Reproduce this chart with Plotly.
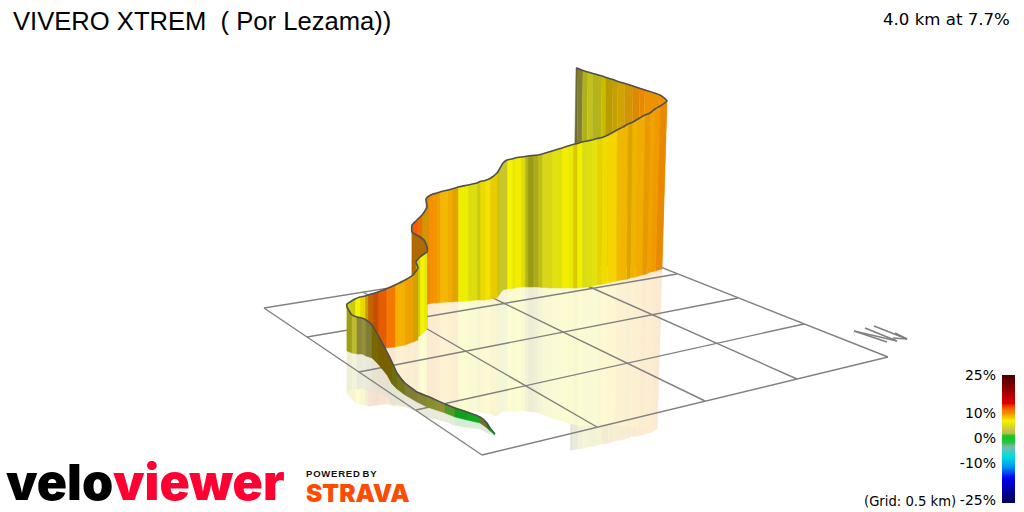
import plotly.graph_objects as go
from plotly.colors import sample_colorscale

TITLE = "VIVERO\u00a0XTREM\u00a0\u00a0(\u00a0Por\u00a0Lezama))"
SUMMARY = "4.0 km at 7.7%"
GRID_NOTE = "(Grid: 0.5 km)"
LOGO_BLACK = "velo"
LOGO_RED = "viewer"
POWERED = "P\u200aO\u200aW\u200aE\u200aR\u200aE\u200aD\u00a0B\u200aY"
STRAVA = "STRAVA"

# route, start of climb to summit: crest position, foot position on the ground plane
crest_x = [495,490,487,480,467,455,445,436,427,417,405,397,392,387,378,372,366,362,357,352,347,
           347,350,355,360,365,368,373,378,386,395,405,413,418,416,420,424,427,427,424,420,412,412,417,422,427,426,429,
           433,437,440,448,452,458,468,477,480,485,490,497,499,503,507,512,515,521,525,528,533,538,542,552,562,568,573,
           577,582,587,592,597,602,608,617,623,628,632,638,645,650,655,660,667,
           660,645,640,633,625,618,613,606,602,593,588,583,578,576]
crest_y = [434,428,423,417,412,408,404,400,396,392,383,373,362,352,335,325,320,318,317,315,307,
           304,302,299,297,296,295,293.5,292,289,285,280,275,268,262,257,254,252,247,240,237,232,225,220,215,207,199,196,
           194,193,192,190,189,187,185,183,181.5,180.5,178.5,173,170,163,160,159,158,157,156.5,156,155.5,155,154,151,148,146,144.5,
           143.5,142,141,140,138.5,137.5,135,130,127,124,122.5,119,115,113,109,106,101,
           95,90,88.5,86,83.5,81.5,79.5,77.5,76,73.5,72,70.5,68.5,68]
foot_x = [495,490,487,480,467,455,445,436,427,417,405,397,392,387,378,372,366,362,357,352,347,
          347,350,355,360,365,368,373,378,386,395,405,413,418,416,420,424,427,427,424,420,412,412,417,422,427,426,429,
          433,437,440,448,452,458,468,477,480,485,490,497,499,503,507,512,515,521,525,528,533,538,542,552,562,568,573,
          577,582,587,592,597,601,607.5,616,622,626.5,630,635.5,642,646.5,651,655.5,662,
          655.5,641,635.5,629.5,621.5,615.5,610.5,603.5,599.5,590.5,585.5,580.5,575.5,573]
foot_y = [435,431,428,423,420,417,413,410,407,402,395,389,384,375,364,358,356,354,354,353,351,
          350,351,352,352,352,352,351,350,348,347,345,342,340,338,336,332,329,328,326,323,318,316,312,308,305,304,304,
          303,303,302.5,302,302,301.5,301,300,300,300,299,298,295,290,289,288.5,288,287,287,287,287,287,287.5,288,288,288,288,
          288,287.5,287,286.5,285,284.5,283,281,280,279.5,278,277,275,274,272,271,269,
          268,267.5,267,267,266.5,266,266,265.5,265.5,265,265,264.5,264,264]
# gradient (%) and wall shading of the stretch leaving each route point
grade = [0.5,1,2,0,0,1.5,2.5,2,2.5,3,4.5,5,8.5,8.5,8,3,3,3,4,5,5,
         6,6,7,7.5,8.5,11,12,12,11,9,9.3,8.5,8.5,6,7,7,10,10,10,10,10,12,11.5,9,9,10,10,
         9.8,9.3,8.8,9,9,7,6,5.5,7.6,7.4,7.8,5.5,4.5,4.5,7,6.5,7.2,6,5,5,5,5,5.5,6,7.2,7,7.6,
         7,5.5,6,6,7.6,7.6,7.9,8.6,8.7,8.8,8.8,9,9.5,9.3,9.6,10,
         10,9.8,10,9.7,9,8.5,8.2,8,7.5,5,5,5,3,3]
shade = [0.9,0.65,0.6,0.85,0.8,0.78,0.75,0.75,0.7,0.65,0.55,0.5,0.5,0.5,0.5,0.65,0.75,0.7,0.9,0.72,0.85,
         0.9,0.88,1,0.95,0.82,0.82,0.82,0.95,1,1,0.97,0.85,0.85,0.9,1,0.95,0.72,0.72,0.72,0.72,0.8,1,1,0.85,0.8,0.95,1,
         1,0.97,1,0.98,0.93,0.97,0.95,0.9,0.97,0.99,0.95,0.87,0.93,0.93,1,0.97,1,0.95,0.82,0.7,0.78,0.87,0.95,0.97,1,0.96,0.9,
         0.98,0.97,0.96,0.98,0.95,0.98,1,0.98,0.98,0.9,0.98,0.98,0.95,0.98,0.98,0.95,
         1,0.97,0.95,0.9,0.85,0.85,0.8,0.75,0.83,0.82,0.88,0.8,0.65,0.55]

# ground grid corners, back edge to front edge
grid_a_from = [(264,308),(363,292),(452,278),(538,264),(620,251)]
grid_a_to = [(482,455),(597,427),(705,401),(797,379),(888,357)]
grid_b_from = [(264,308),(307,337),(359,372),(416,410),(482,455)]
grid_b_to = [(620,251),(677,274),(738,298),(804,324),(888,357)]

compass_strokes = [((854,331),(887,342)),((854,331),(897,341)),((865,328),(897,341)),((874,326),(907,339)),
                   ((895,333),(907,339)),((893,338),(907,339))]

legend_ticks = [25,10,0,-10,-25]
legend_labels = ["25%","10%","0%","-10%","-25%"]
legend_steps = list(range(-26,26))

color_stops = [(-25,"#000060"),(-16,"#0000f0"),(-11,"#00a0f0"),(-7,"#00e0e0"),(-3.5,"#80b8a8"),(-1.5,"#20c840"),
               (0,"#10c820"),(1,"#20c820"),(2,"#b0c040"),(3,"#c8c050"),(5,"#dcdc20"),(7,"#f4f400"),(8,"#f5d000"),(9,"#f5b000"),
               (10,"#f59000"),(12,"#f06000"),(14,"#e00000"),(20,"#8b0000"),(25,"#4a0000")]
colorscale = [[(g+25)/50, c] for g, c in color_stops]

n = len(crest_x)
assert len(crest_y) == n and len(foot_x) == n and len(foot_y) == n
assert len(grade) == n-1 and len(shade) == n-1, (n, len(grade), len(shade))

def segment_color(g, s):
    rgb = sample_colorscale(colorscale, [(g+25)/50], colortype="tuple")[0]
    return tuple(v*255*s for v in rgb)

def pale(c, a=0.18):
    return "rgb(%d,%d,%d)" % tuple(round(v*a+255*(1-a)) for v in c)

fig = go.Figure()
GREY = "#808080"

# mirrored walls on the ground, far end first so that only one layer shows
K = 0.95
for i in range(n-2, -1, -1):
    rx = [foot_x[j]-K*(crest_x[j]-foot_x[j]) for j in (i, i+1)]
    ry = [foot_y[j]+K*(foot_y[j]-crest_y[j]) for j in (i, i+1)]
    c = pale(segment_color(grade[i], shade[i]))
    fig.add_trace(go.Scatter(x=[foot_x[i],foot_x[i+1],rx[1],rx[0]], y=[foot_y[i],foot_y[i+1],ry[1],ry[0]],
                             mode="lines", fill="toself", fillcolor=c, line=dict(color=c, width=0.4),
                             hoverinfo="skip", showlegend=False))

# ground grid
for a, b in list(zip(grid_a_from, grid_a_to))+list(zip(grid_b_from, grid_b_to)):
    fig.add_trace(go.Scatter(x=[a[0],b[0]], y=[a[1],b[1]], mode="lines", line=dict(color=GREY, width=1.4),
                             hoverinfo="skip", showlegend=False))

# walls, far end of the route first
for i in range(n-2, -1, -1):
    r, g, b = segment_color(grade[i], shade[i])
    c = f"rgb({round(r)},{round(g)},{round(b)})"
    fig.add_trace(go.Scatter(x=[crest_x[i],crest_x[i+1],foot_x[i+1],foot_x[i]], y=[crest_y[i],crest_y[i+1],foot_y[i+1],foot_y[i]],
                             mode="lines", fill="toself", fillcolor=c, line=dict(color=c, width=0.5),
                             hoverinfo="skip", showlegend=False))

fig.add_trace(go.Scatter(x=crest_x, y=crest_y, mode="lines", line=dict(color="#505050", width=1.6, shape="spline", smoothing=0.5),
                         hoverinfo="skip", showlegend=False))

for a, b in compass_strokes:
    fig.add_trace(go.Scatter(x=[a[0],b[0]], y=[a[1],b[1]], mode="lines", line=dict(color=GREY, width=1.7),
                             hoverinfo="skip", showlegend=False))

fig.add_trace(go.Heatmap(x=[0,1], y=legend_steps, z=[[v,v] for v in legend_steps], colorscale=colorscale, zmin=-25, zmax=25,
                         zsmooth="best", showscale=False, xaxis="x2", yaxis="y2", hoverinfo="skip"))

ann = [
    dict(x=12, y=20.5, text=TITLE, xanchor="left", font=dict(family="Liberation Sans", size=25.6, color="#000")),
    dict(x=1011, y=19, text=SUMMARY, xanchor="right", font=dict(family="DejaVu Sans", size=16.6, color="#000")),
    dict(x=957, y=501, text=GRID_NOTE, xanchor="right", font=dict(family="DejaVu Sans", size=13.2, color="#000")),
    dict(x=305, y=473, text=POWERED, xanchor="left", font=dict(family="Liberation Sans", size=9.5, color="#111", weight=700)),
    dict(x=305, y=493, text=STRAVA, xanchor="left", font=dict(family="Inter", size=24.5, color="#fc4c02", weight=900)),
    dict(x=5, y=482, text=LOGO_BLACK, xanchor="left", font=dict(family="Inter", size=50, color="#000", weight=900)),
    dict(x=112, y=482, text=LOGO_RED, xanchor="left", font=dict(family="Inter", size=50, color="#ff0033", weight=900)),
]
for a in ann:
    a.update(xref="x", yref="y", showarrow=False, yanchor="middle", xshift=0, borderpad=0)

fig.update_layout(
    width=1024, height=512, margin=dict(l=0, r=0, t=0, b=0, pad=0, autoexpand=False), paper_bgcolor="white", plot_bgcolor="rgba(0,0,0,0)",
    showlegend=False, annotations=ann,
    xaxis=dict(range=[0,1024], domain=[0,1], visible=False, fixedrange=True, automargin=False),
    yaxis=dict(range=[512,0], domain=[0,1], visible=False, fixedrange=True, automargin=False),
    xaxis2=dict(range=[0,1], domain=[1002/1024,1015/1024], anchor="y2", visible=False, fixedrange=True, automargin=False),
    yaxis2=dict(range=[-26,25], domain=[1-503/512,1-375/512], anchor="x2", side="left", tickmode="array", automargin=False,
                tickvals=legend_ticks, ticktext=legend_labels, ticks="", showgrid=False, zeroline=False, showline=False,
                ticklabelposition="outside", ticklabelstandoff=5, tickfont=dict(family="DejaVu Sans", size=14, color="#000"), fixedrange=True),
)
fig.write_html("out.html", config=dict(displayModeBar=False),
               post_script="document.body.style.margin='0';")
